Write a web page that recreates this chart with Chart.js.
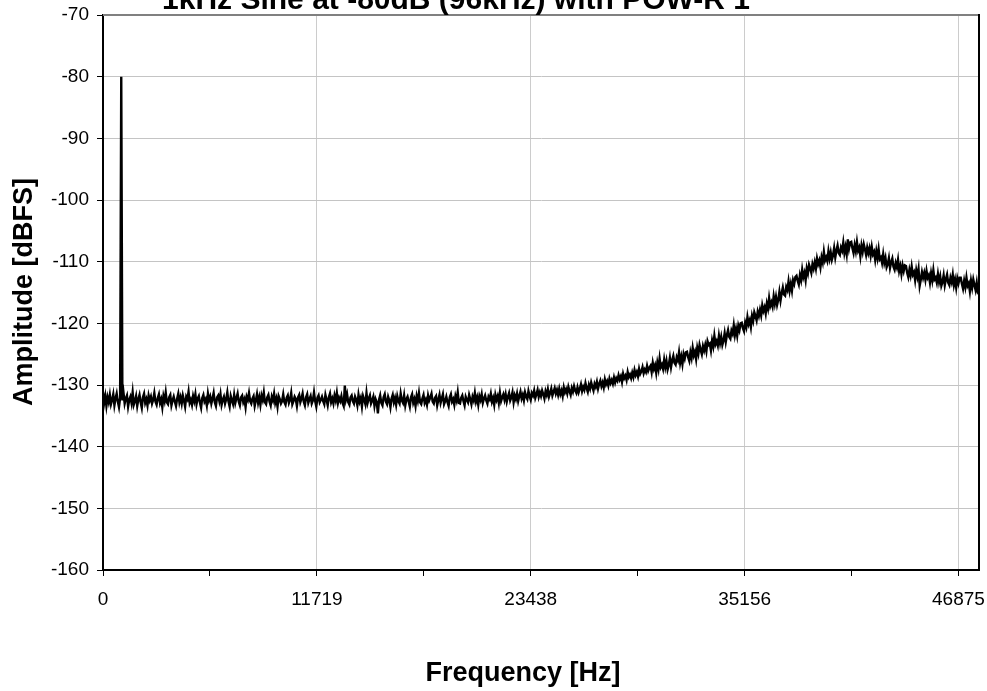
<!DOCTYPE html>
<html>
<head>
<meta charset="utf-8">
<script src="https://cdn.jsdelivr.net/npm/chart.js@4.4.1/dist/chart.umd.min.js"></script>
<style>
  body { margin: 0; background: #fff; }
  #wrap { width: 987px; height: 691px; position: relative; }
</style>
</head>
<body>
<div id="wrap"><canvas id="fftChart" width="987" height="691"></canvas></div>
<script>
// FFT bin spacing (Hz) and the measured amplitudes (dBFS), one per bin from 0 Hz
const binStepHz = 62.5;
const amplitudeDb = [
  // 0 - 937.5 Hz
  -131.2, -132.9, -131.8, -133.4, -132.0, -132.8, -131.6, -133.1, -132.4, -131.5, -133.3, -132.2, -131.4, -132.7, -133.6, -132.1,
  // 1000 Hz tone
  -80.0, -132.5, -131.3, -133.0, -132.2, -131.7, -133.5, -132.4, -131.9, -132.9, -131.2, -133.2, -132.6, -131.8, -133.4, -132.3,
  -131.6, -132.8, -133.7, -132.0, -131.4, -132.9, -132.3, -133.3, -131.7, -132.5, -131.9, -133.0, -132.4, -131.3, -132.7, -133.2,
  -132.1, -131.5, -132.9, -132.3, -133.6, -131.8, -132.6, -131.2, -132.8, -133.1, -132.0, -131.6, -133.3, -132.5, -131.9, -132.7,
  -133.4, -132.2, -131.4, -132.8, -132.0, -133.0, -131.7, -132.5, -133.5, -131.9, -132.3, -131.1, -132.9, -132.4, -133.2, -131.8,
  // 5 kHz
  -132.6, -131.5, -133.1, -132.2, -131.8, -132.9, -133.7, -132.1, -131.6, -132.7, -132.3, -133.3, -131.4, -132.5, -131.9, -133.0,
  -132.2, -131.3, -132.8, -133.4, -132.0, -131.7, -132.6, -131.5, -133.2, -132.4, -131.9, -133.0, -132.3, -131.2, -132.7, -133.5,
  -131.8, -132.5, -133.1, -131.6, -132.9, -132.1, -131.4, -132.7, -133.3, -132.0, -131.7, -132.8, -132.3, -133.6, -131.9, -132.4,
  -131.3, -132.6, -133.0, -132.2, -131.8, -133.4, -132.5, -131.5, -132.9, -132.0, -133.2, -131.7, -132.4, -131.2, -132.8, -133.1,
  -132.0, -131.6, -132.7, -133.3, -131.9, -132.5, -131.4, -132.9, -132.2, -133.5, -131.8, -132.3, -133.0, -132.6, -131.5, -132.8,
  // 10 kHz
  -133.2, -132.1, -131.7, -132.9, -132.4, -131.3, -133.1, -132.6, -131.9, -132.3, -133.4, -132.0, -131.6, -132.8, -132.2, -131.4,
  -132.7, -133.3, -132.0, -131.5, -132.9, -132.3, -131.8, -133.0, -132.5, -131.2, -132.6, -133.5, -132.1, -131.7, -132.8, -132.4,
  -131.9, -132.6, -133.1, -131.6, -132.4, -133.3, -132.0, -131.4, -132.8, -132.2, -133.0, -131.7, -132.5, -131.3, -132.9, -132.1,
  -132.6, -131.8, -132.9, -133.4, -130.1, -132.3, -131.5, -132.8, -133.2, -132.0, -131.7, -132.6, -133.0, -131.9, -132.4, -133.3,
  -131.6, -132.7, -132.1, -133.5, -131.8, -132.4, -133.1, -131.3, -132.9, -132.2, -131.7, -133.0, -132.5, -131.9, -133.4, -132.3,
  // 15 kHz
  -132.8, -134.6, -132.4, -131.7, -132.9, -133.3, -132.0, -131.5, -132.7, -133.1, -131.9, -132.5, -133.6, -132.2, -131.6, -132.8,
  -132.1, -133.2, -131.8, -132.6, -133.0, -131.4, -132.5, -132.9, -131.7, -133.3, -132.3, -131.9, -132.7, -133.5, -132.0, -131.5,
  -132.9, -132.3, -133.4, -131.8, -132.6, -131.3, -132.8, -133.1, -132.2, -131.6, -132.9, -132.4, -133.2, -131.7, -132.5, -132.0,
  -131.4, -132.7, -133.0, -132.1, -131.8, -133.3, -132.4, -131.6, -132.9, -132.2, -131.5, -133.1, -132.6, -131.9, -132.8, -133.4,
  -132.0, -131.5, -132.7, -132.3, -133.2, -131.8, -132.5, -131.2, -132.9, -133.0, -132.1, -131.7, -132.6, -133.3, -131.9, -132.4,
  // 20 kHz
  -132.8, -131.6, -132.3, -133.1, -131.9, -132.5, -131.3, -132.7, -132.0, -133.2, -131.8, -132.4, -131.5, -132.9, -132.2, -131.7,
  -132.5, -133.0, -131.9, -132.3, -131.4, -132.7, -132.1, -133.2, -131.6, -132.4, -131.8, -132.9, -131.3, -132.6, -132.0, -131.5,
  -132.4, -131.5, -132.7, -131.9, -131.3, -132.5, -132.0, -131.2, -132.8, -131.7, -132.3, -131.4, -132.6, -131.8, -131.1, -132.2,
  -131.6, -132.5, -131.2, -131.9, -132.3, -131.0, -131.8, -132.4, -131.3, -131.7, -130.9, -132.1, -131.5, -130.8, -131.9, -131.2,
  -131.8, -130.9, -131.5, -132.2, -131.0, -131.6, -130.7, -131.9, -131.3, -130.6, -131.7, -131.1, -130.5, -131.4, -130.8, -131.6,
  // 25 kHz
  -130.6, -131.5, -130.9, -131.8, -130.4, -131.2, -130.7, -131.4, -130.3, -131.0, -131.6, -130.5, -131.1, -130.2, -130.9, -131.3,
  -130.4, -131.2, -130.6, -129.9, -131.0, -130.3, -130.8, -129.7, -130.5, -131.1, -130.0, -130.6, -129.6, -130.3, -130.9, -129.8,
  -130.3, -129.5, -130.6, -129.8, -129.3, -130.2, -129.6, -130.4, -129.1, -129.9, -129.4, -130.1, -129.0, -129.7, -129.2, -129.8,
  -128.8, -129.6, -128.9, -129.3, -128.4, -129.1, -128.6, -129.5, -128.2, -128.9, -128.5, -129.2, -127.9, -128.7, -128.3, -128.9,
  -128.0, -128.7, -127.6, -128.4, -127.9, -128.6, -127.4, -128.2, -127.8, -127.1, -128.1, -127.5, -127.9, -126.9, -127.7, -127.2,
  // 30 kHz
  -126.9, -127.9, -126.4, -127.4, -126.8, -128.0, -126.4, -127.4, -125.7, -127.1, -126.7, -127.4, -125.9, -127.1, -126.1, -127.5,
  -126.8, -125.6, -127.1, -126.0, -125.3, -126.4, -126.7, -125.5, -126.0, -124.7, -126.4, -125.4, -126.6, -125.0, -125.7, -124.7,
  -124.6, -125.5, -126.1, -124.7, -125.6, -124.0, -125.2, -124.6, -125.8, -124.0, -124.9, -123.5, -124.3, -125.0, -123.7, -124.4,
  -123.5, -124.5, -122.9, -123.5, -123.3, -124.4, -122.8, -123.7, -122.0, -123.4, -122.9, -123.6, -122.0, -123.2, -122.2, -123.5,
  -122.8, -121.6, -123.0, -121.9, -121.1, -122.2, -122.5, -121.2, -121.7, -120.3, -121.9, -120.9, -122.0, -120.4, -121.1, -120.0,
  // 35 kHz
  -119.9, -120.8, -121.3, -119.9, -120.6, -119.0, -120.1, -119.5, -120.6, -118.8, -119.6, -118.2, -118.8, -119.5, -118.1, -118.8,
  -117.8, -118.7, -117.1, -118.0, -117.4, -118.4, -116.8, -117.6, -115.9, -117.2, -116.6, -117.3, -115.6, -116.8, -115.7, -117.0,
  -116.2, -114.9, -116.3, -115.1, -114.2, -115.3, -115.5, -114.1, -114.6, -113.2, -114.7, -113.6, -114.7, -113.0, -113.6, -112.5,
  -112.3, -113.1, -113.7, -112.2, -113.0, -111.3, -112.5, -111.8, -113.0, -111.1, -111.9, -110.5, -111.1, -111.8, -110.4, -111.1,
  -110.1, -111.1, -109.5, -110.4, -109.8, -110.9, -109.3, -110.1, -108.4, -109.8, -109.3, -109.9, -108.3, -109.5, -108.5, -109.7,
  // 40 kHz
  -109.0, -107.8, -109.3, -108.2, -107.4, -108.6, -108.9, -107.7, -108.2, -106.9, -108.6, -107.6, -108.8, -106.4, -107.9, -106.9,
  -106.8, -107.8, -108.6, -107.3, -108.3, -106.8, -108.2, -107.7, -109.1, -107.4, -108.4, -107.2, -108.0, -108.9, -107.7, -108.6,
  -107.8, -109.0, -107.6, -108.8, -108.4, -109.7, -108.3, -109.4, -108.0, -109.6, -109.3, -110.2, -108.8, -110.2, -109.4, -110.9,
  -110.4, -109.4, -111.0, -110.1, -109.5, -110.8, -111.3, -110.2, -110.9, -109.7, -111.5, -110.7, -112.0, -110.6, -111.5, -110.6,
  -110.7, -111.8, -112.5, -111.3, -112.2, -110.8, -112.1, -111.7, -113.0, -111.4, -112.4, -111.2, -113.9, -112.9, -111.7, -112.6,
  // 45 kHz
  -111.8, -112.9, -111.5, -112.6, -112.2, -113.4, -111.9, -113.0, -111.4, -112.9, -112.6, -113.4, -112.0, -113.3, -112.4, -113.9,
  -113.3, -112.2, -113.8, -112.8, -112.1, -113.4, -113.8, -112.6, -113.3, -112.1, -113.8, -112.9, -114.2, -112.7, -113.5, -112.6,
  -112.6, -113.6, -114.4, -113.1, -114.1, -112.6, -113.9, -113.5, -114.8, -113.1, -114.2, -112.9, -113.8, -114.6, -113.4, -115.0,
  // 48 kHz
  -115.3
];

const xTickValues = [0, 11719, 23438, 35156, 46875];
const xMax = 48000;
const yMin = -160;
const yMax = -70;
const yStep = 10;

const chartTitle = '1kHz Sine at -80dB (96kHz) with POW-R 1';
const xAxisTitle = 'Frequency [Hz]';
const yAxisTitle = 'Amplitude [dBFS]';

const fontFamily = '"Liberation Sans", Arial, sans-serif';

// major ticks plus a minor tick halfway between each pair
const xAllTicks = [];
xTickValues.forEach((v, i) => {
    xAllTicks.push(v);
    if (i < xTickValues.length - 1) xAllTicks.push((v + xTickValues[i + 1]) / 2);
});

// title and axis captions, plus the top/right frame of the plot
const textAndFrame = {
    id: 'textAndFrame',
    afterDraw(chart) {
        const ctx = chart.ctx;
        const a = chart.chartArea;
        ctx.save();
        ctx.strokeStyle = '#808080';
        ctx.lineWidth = 2;
        ctx.beginPath();
        ctx.moveTo(a.left, a.top);
        ctx.lineTo(a.right, a.top);
        ctx.stroke();
        ctx.strokeStyle = '#000';
        ctx.beginPath();
        ctx.moveTo(a.right, a.top - 1);
        ctx.lineTo(a.right, a.bottom);
        ctx.stroke();

        ctx.fillStyle = '#000';
        ctx.textAlign = 'center';
        ctx.textBaseline = 'alphabetic';
        ctx.font = 'bold 30px ' + fontFamily;
        ctx.fillText(chartTitle, 456, 9);

        ctx.font = 'bold 27px ' + fontFamily;
        ctx.fillText(xAxisTitle, 523, 681);

        ctx.translate(32, 292);
        ctx.rotate(-Math.PI / 2);
        ctx.fillText(yAxisTitle, 0, 0);
        ctx.restore();
    }
};

new Chart(document.getElementById('fftChart'), {
    type: 'line',
    data: {
        datasets: [{
            data: amplitudeDb.map((v, i) => ({ x: i * binStepHz, y: v })),
            borderColor: '#000',
            borderWidth: 2.4,
            pointRadius: 0,
            tension: 0,
            fill: false
        }]
    },
    options: {
        responsive: false,
        animation: false,
        layout: { padding: { top: 15, right: 8, left: 0, bottom: 0 } },
        plugins: {
            legend: { display: false },
            tooltip: { enabled: false }
        },
        scales: {
            x: {
                type: 'linear',
                min: 0,
                max: xMax,
                afterBuildTicks: function (scale) {
                    scale.ticks = xAllTicks.map(v => ({ value: v }));
                },
                afterFit: function (scale) {
                    scale.height = 121;
                    scale.paddingLeft = 0;
                    scale.paddingRight = 0;
                },
                ticks: {
                    autoSkip: false,
                    maxRotation: 0,
                    padding: 12,
                    color: '#000',
                    font: { family: fontFamily, size: 19 },
                    callback: function (value, index) {
                        return index % 2 ? '' : String(value);
                    }
                },
                grid: {
                    color: ctx => (ctx.index % 2 ? 'rgba(0,0,0,0)' : '#cccccc'),
                    tickColor: '#000',
                    tickLength: 6,
                    lineWidth: 1
                },
                border: { color: '#000', width: 2 }
            },
            y: {
                min: yMin,
                max: yMax,
                afterFit: function (scale) {
                    scale.width = 103;
                    scale.paddingTop = 0;
                    scale.paddingBottom = 0;
                },
                ticks: {
                    stepSize: yStep,
                    padding: 8,
                    color: '#000',
                    font: { family: fontFamily, size: 19 },
                    callback: value => String(value)
                },
                grid: {
                    color: '#c4c4c4',
                    tickColor: '#000',
                    tickLength: 6,
                    lineWidth: 1
                },
                border: { color: '#000', width: 2 }
            }
        }
    },
    plugins: [textAndFrame]
});
</script>
</body>
</html>
